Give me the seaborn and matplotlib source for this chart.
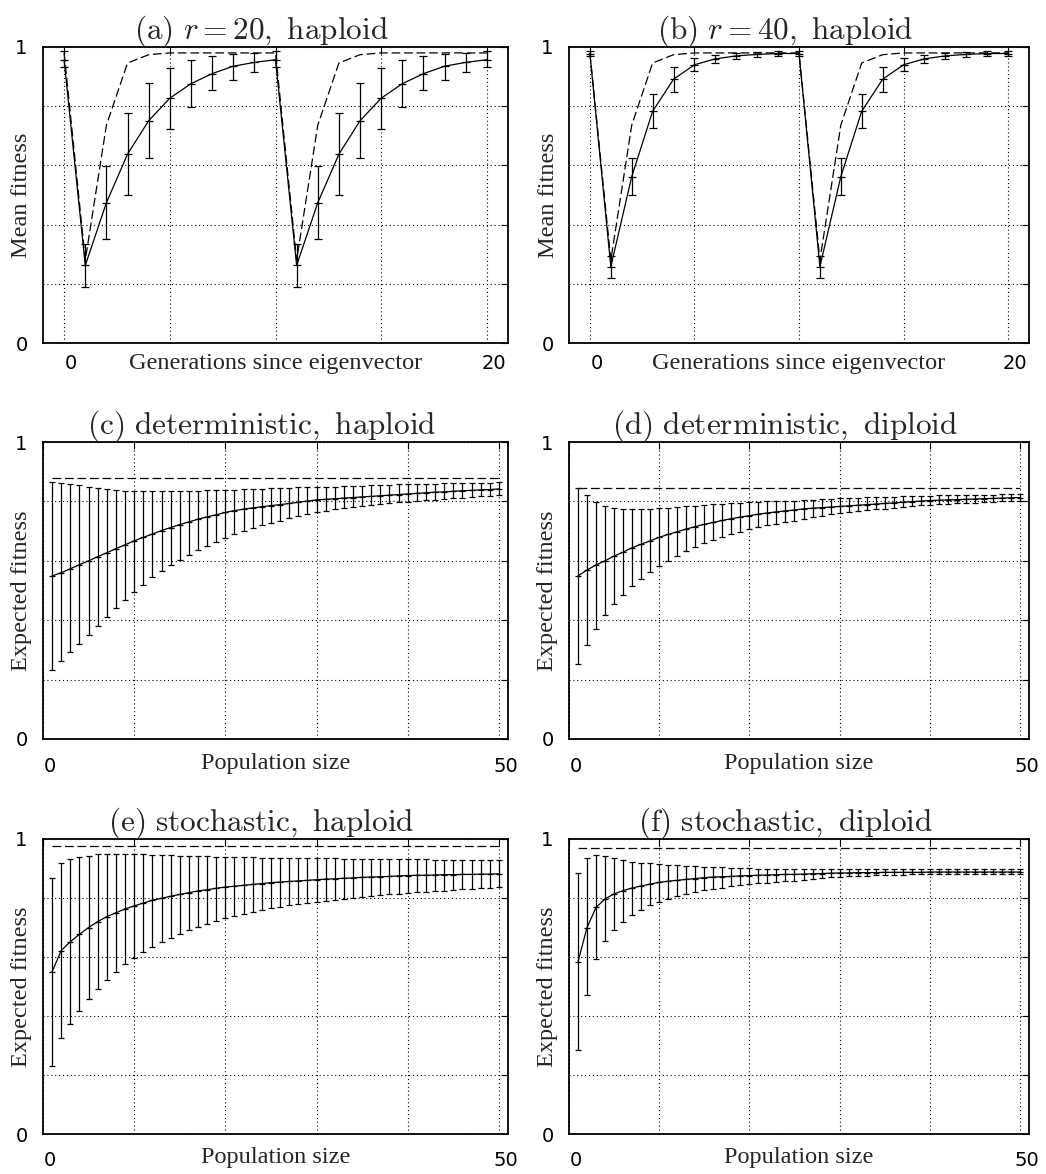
import numpy as np
import pandas as pd
import matplotlib
matplotlib.use("Agg")
import matplotlib.pyplot as plt
import matplotlib.transforms as mtransforms
import seaborn as sns

# ---------------- data ----------------
generations = list(range(21))
pop_size = list(range(1, 51))

a_mean = [0.955, 0.262, 0.474, 0.638, 0.751, 0.827, 0.876, 0.910, 0.935, 0.948, 0.957,
          0.262, 0.474, 0.638, 0.751, 0.827, 0.876, 0.910, 0.935, 0.948, 0.957]
a_lo = [0.933, 0.189, 0.351, 0.500, 0.624, 0.724, 0.798, 0.854, 0.890, 0.916, 0.933,
        0.189, 0.351, 0.500, 0.624, 0.724, 0.798, 0.854, 0.890, 0.916, 0.933]
a_hi = [0.986, 0.335, 0.599, 0.778, 0.880, 0.930, 0.955, 0.970, 0.978, 0.980, 0.986,
        0.335, 0.599, 0.778, 0.880, 0.930, 0.955, 0.970, 0.978, 0.980, 0.986]
a_det = [0.980, 0.280, 0.736, 0.946, 0.974, 0.980, 0.980, 0.980, 0.980, 0.980, 0.980,
         0.280, 0.736, 0.946, 0.974, 0.980, 0.980, 0.980, 0.980, 0.980, 0.980]

b_mean = [0.978, 0.258, 0.562, 0.783, 0.891, 0.940, 0.960, 0.970, 0.975, 0.978, 0.978,
          0.258, 0.562, 0.783, 0.891, 0.940, 0.960, 0.970, 0.975, 0.978, 0.978]
b_lo = [0.968, 0.219, 0.500, 0.725, 0.848, 0.918, 0.946, 0.959, 0.967, 0.971, 0.968,
        0.219, 0.500, 0.725, 0.848, 0.918, 0.946, 0.959, 0.967, 0.971, 0.968]
b_hi = [0.988, 0.294, 0.624, 0.840, 0.933, 0.963, 0.974, 0.981, 0.983, 0.985, 0.988,
        0.294, 0.624, 0.840, 0.933, 0.963, 0.974, 0.981, 0.983, 0.985, 0.988]
b_det = [0.980, 0.280, 0.736, 0.946, 0.974, 0.980, 0.980, 0.980, 0.980, 0.980, 0.980,
         0.280, 0.736, 0.946, 0.974, 0.980, 0.980, 0.980, 0.980, 0.980, 0.980]

c_mean = [0.549, 0.560, 0.573, 0.587, 0.600, 0.614, 0.627, 0.641, 0.654, 0.667,
          0.679, 0.690, 0.702, 0.712, 0.722, 0.731, 0.740, 0.748, 0.755, 0.763,
          0.769, 0.774, 0.778, 0.782, 0.786, 0.789, 0.793, 0.797, 0.801, 0.805,
          0.807, 0.809, 0.811, 0.813, 0.815, 0.817, 0.819, 0.821, 0.823, 0.825,
          0.827, 0.829, 0.831, 0.832, 0.834, 0.836, 0.837, 0.839, 0.840, 0.842]
c_lo = [0.233, 0.264, 0.292, 0.320, 0.351, 0.382, 0.412, 0.440, 0.468, 0.494,
        0.520, 0.544, 0.565, 0.585, 0.604, 0.620, 0.636, 0.650, 0.664, 0.676,
        0.689, 0.700, 0.709, 0.719, 0.727, 0.735, 0.743, 0.751, 0.758, 0.765,
        0.769, 0.773, 0.777, 0.781, 0.785, 0.788, 0.791, 0.794, 0.797, 0.799,
        0.802, 0.804, 0.806, 0.808, 0.811, 0.813, 0.815, 0.817, 0.819, 0.821]
c_hi = [0.866, 0.861, 0.857, 0.854, 0.850, 0.846, 0.842, 0.838, 0.836, 0.835,
        0.835, 0.835, 0.835, 0.835, 0.835, 0.836, 0.836, 0.837, 0.838, 0.839,
        0.840, 0.841, 0.842, 0.843, 0.844, 0.845, 0.846, 0.847, 0.847, 0.848,
        0.849, 0.850, 0.851, 0.852, 0.853, 0.854, 0.855, 0.856, 0.857, 0.858,
        0.859, 0.859, 0.860, 0.861, 0.861, 0.862, 0.862, 0.863, 0.863, 0.864]
c_det = 0.880

d_mean = [0.549, 0.569, 0.586, 0.600, 0.616, 0.629, 0.644, 0.656, 0.667, 0.679,
          0.689, 0.698, 0.707, 0.715, 0.723, 0.729, 0.736, 0.742, 0.747, 0.752,
          0.757, 0.761, 0.765, 0.768, 0.771, 0.775, 0.777, 0.779, 0.781, 0.783,
          0.785, 0.787, 0.789, 0.791, 0.793, 0.795, 0.797, 0.799, 0.801, 0.803,
          0.804, 0.805, 0.806, 0.807, 0.808, 0.809, 0.810, 0.811, 0.812, 0.813]
d_lo = [0.253, 0.316, 0.372, 0.417, 0.454, 0.486, 0.515, 0.538, 0.561, 0.581,
        0.599, 0.616, 0.632, 0.645, 0.659, 0.670, 0.680, 0.690, 0.698, 0.706,
        0.713, 0.719, 0.725, 0.730, 0.735, 0.741, 0.746, 0.751, 0.756, 0.761,
        0.764, 0.767, 0.770, 0.773, 0.776, 0.779, 0.782, 0.784, 0.787, 0.789,
        0.791, 0.792, 0.794, 0.795, 0.796, 0.797, 0.798, 0.800, 0.801, 0.802]
d_hi = [0.846, 0.823, 0.799, 0.786, 0.779, 0.775, 0.773, 0.773, 0.774, 0.777,
        0.779, 0.781, 0.783, 0.786, 0.788, 0.790, 0.792, 0.793, 0.795, 0.797,
        0.799, 0.800, 0.801, 0.802, 0.803, 0.805, 0.806, 0.808, 0.809, 0.811,
        0.812, 0.813, 0.814, 0.815, 0.816, 0.816, 0.817, 0.818, 0.818, 0.819,
        0.820, 0.820, 0.821, 0.822, 0.822, 0.823, 0.823, 0.824, 0.824, 0.825]
d_det = 0.845

e_mean = [0.550, 0.622, 0.652, 0.677, 0.700, 0.720, 0.737, 0.750, 0.763, 0.773,
          0.783, 0.792, 0.799, 0.806, 0.812, 0.818, 0.824, 0.828, 0.833, 0.837,
          0.840, 0.843, 0.846, 0.849, 0.852, 0.854, 0.856, 0.858, 0.860, 0.862,
          0.864, 0.865, 0.867, 0.868, 0.870, 0.871, 0.872, 0.873, 0.875, 0.876,
          0.877, 0.877, 0.878, 0.879, 0.879, 0.880, 0.880, 0.881, 0.881, 0.882]
e_lo = [0.232, 0.324, 0.374, 0.417, 0.457, 0.493, 0.523, 0.550, 0.575, 0.598,
        0.617, 0.635, 0.650, 0.664, 0.678, 0.691, 0.702, 0.712, 0.722, 0.731,
        0.738, 0.745, 0.752, 0.759, 0.765, 0.770, 0.775, 0.779, 0.784, 0.788,
        0.791, 0.794, 0.797, 0.800, 0.803, 0.806, 0.809, 0.812, 0.814, 0.817,
        0.819, 0.821, 0.823, 0.825, 0.827, 0.829, 0.831, 0.833, 0.835, 0.836]
e_hi = [0.869, 0.917, 0.931, 0.940, 0.944, 0.948, 0.949, 0.950, 0.950, 0.949,
        0.948, 0.947, 0.946, 0.945, 0.944, 0.943, 0.942, 0.941, 0.940, 0.939,
        0.939, 0.938, 0.938, 0.937, 0.937, 0.936, 0.936, 0.935, 0.935, 0.935,
        0.934, 0.934, 0.933, 0.933, 0.933, 0.932, 0.932, 0.932, 0.931, 0.931,
        0.931, 0.931, 0.930, 0.930, 0.930, 0.930, 0.930, 0.930, 0.930, 0.930]
e_det = 0.977

f_mean = [0.584, 0.700, 0.768, 0.797, 0.814, 0.825, 0.834, 0.841, 0.847, 0.853,
          0.857, 0.860, 0.863, 0.866, 0.869, 0.871, 0.872, 0.873, 0.875, 0.876,
          0.877, 0.878, 0.879, 0.880, 0.880, 0.881, 0.882, 0.883, 0.884, 0.885,
          0.885, 0.886, 0.886, 0.886, 0.887, 0.887, 0.887, 0.887, 0.887, 0.888,
          0.888, 0.888, 0.888, 0.888, 0.888, 0.888, 0.888, 0.888, 0.888, 0.888]
f_lo = [0.285, 0.471, 0.593, 0.654, 0.692, 0.720, 0.742, 0.759, 0.775, 0.787,
        0.797, 0.806, 0.814, 0.820, 0.827, 0.831, 0.835, 0.840, 0.843, 0.847,
        0.850, 0.852, 0.854, 0.856, 0.858, 0.862, 0.865, 0.867, 0.870, 0.872,
        0.874, 0.875, 0.876, 0.877, 0.878, 0.878, 0.879, 0.880, 0.880, 0.881,
        0.881, 0.881, 0.881, 0.882, 0.882, 0.882, 0.882, 0.882, 0.882, 0.882]
f_hi = [0.884, 0.934, 0.946, 0.942, 0.934, 0.929, 0.923, 0.920, 0.917, 0.915,
        0.913, 0.911, 0.909, 0.908, 0.906, 0.905, 0.904, 0.903, 0.902, 0.901,
        0.900, 0.900, 0.900, 0.900, 0.900, 0.900, 0.900, 0.900, 0.900, 0.900,
        0.900, 0.900, 0.900, 0.900, 0.900, 0.900, 0.900, 0.900, 0.900, 0.899,
        0.899, 0.899, 0.899, 0.899, 0.899, 0.899, 0.899, 0.899, 0.899, 0.899]
f_det = 0.968

titles = [r'$\mathrm{(a)}\ r = 20,\ \mathrm{haploid}$',
          r'$\mathrm{(b)}\ r = 40,\ \mathrm{haploid}$',
          r'$\mathrm{(c)\ deterministic,\ haploid}$',
          r'$\mathrm{(d)\ deterministic,\ diploid}$',
          r'$\mathrm{(e)\ stochastic,\ haploid}$',
          r'$\mathrm{(f)\ stochastic,\ diploid}$']

# ---------------- style ----------------
sns.set_style("white")
plt.rcParams['font.family'] = ['DejaVu Sans']
plt.rcParams['mathtext.fontset'] = 'cm'

W, H = 1046, 1174
fig = plt.figure(figsize=(W / 100, H / 100), dpi=100)
fig.patch.set_facecolor('white')


def add_axes_px(l, t, r, b):
    return fig.add_axes([l / W, 1 - b / H, (r - l) / W, (b - t) / H])


def draw_panel(ax, x, mean, lo, hi, det, title, xlabel, ylabel, xlim, xticks,
               cap_px, xlab_px):
    df = pd.DataFrame({'x': x, 'mean': mean, 'lo': lo, 'hi': hi, 'det': det})
    ax.set_facecolor('white')
    # dashed deterministic line
    sns.lineplot(data=df, x='x', y='det', ax=ax, color='black', lw=0.9,
                 linestyle=(0, (7, 3)), zorder=3)
    # error bars
    yerr = np.vstack([df['mean'] - df['lo'], df['hi'] - df['mean']])
    ax.errorbar(df['x'], df['mean'], yerr=yerr, fmt='none', ecolor='black',
                elinewidth=0.9, capsize=cap_px * 0.72, capthick=0.9, zorder=4)
    # mean line with point marks
    sns.lineplot(data=df, x='x', y='mean', ax=ax, color='black', lw=0.9,
                 marker='_', markersize=cap_px * 1.44, markeredgewidth=0.9,
                 markeredgecolor='black', zorder=5)

    ax.set_xlim(*xlim)
    ax.set_ylim(0, 1)
    ax.set_xticks(xticks)
    ax.set_xticklabels([str(xticks[0])] + [''] * (len(xticks) - 2) + [str(xticks[-1])])
    yt = [0, 0.2, 0.4, 0.6, 0.8, 1.0]
    ax.set_yticks(yt)
    ax.set_yticklabels(['0', '', '', '', '', '1'])
    ax.grid(True, color='black', linestyle=(0, (1, 2.5)), linewidth=0.8)
    ax.tick_params(axis='both', direction='in', top=True, right=True,
                   length=5, width=0.8, labelsize=14, colors='black')
    ax.tick_params(axis='x', pad=xlab_px - 12)
    ax.tick_params(axis='y', pad=11)
    for s in ax.spines.values():
        s.set_visible(True)
        s.set_color('black')
        s.set_linewidth(1.3)
    offset = mtransforms.ScaledTranslation(7 / 100, 0, fig.dpi_scale_trans)
    for lab in ax.get_xticklabels():
        lab.set_transform(lab.get_transform() + offset)

    ax.set_title(title, fontsize=22.5, pad=6, x=0.47)
    ax.set_xlabel(xlabel, fontsize=17.5, fontfamily='Liberation Serif')
    ax.set_ylabel(ylabel, fontsize=17.5, fontfamily='Liberation Serif')
    bb = ax.get_position()
    hpx = bb.height * H
    wpx = bb.width * W
    ax.xaxis.set_label_coords(0.5, -xlab_px / hpx)
    ax.xaxis.label.set_va('center')
    ax.yaxis.set_label_coords(-21 / wpx, 0.5)
    ax.yaxis.label.set_va('center')


ax_a = add_axes_px(43, 47, 508, 343)
ax_b = add_axes_px(569, 47, 1029, 343)
ax_c = add_axes_px(43, 442, 508, 739)
ax_d = add_axes_px(569, 442, 1029, 739)
ax_e = add_axes_px(43, 839, 508, 1134)
ax_f = add_axes_px(569, 839, 1029, 1134)

gticks = [0, 5, 10, 15, 20]
pticks = [0, 10, 20, 30, 40, 50]

draw_panel(ax_a, generations, a_mean, a_lo, a_hi, a_det, titles[0],
           'Generations since eigenvector', 'Mean fitness', (-1, 21), gticks, 4, 20)
draw_panel(ax_b, generations, b_mean, b_lo, b_hi, b_det, titles[1],
           'Generations since eigenvector', 'Mean fitness', (-1, 21), gticks, 4, 20)
draw_panel(ax_c, pop_size, c_mean, c_lo, c_hi, [c_det] * len(pop_size), titles[2],
           'Population size', 'Expected fitness', (0, 51), pticks, 3, 25)
draw_panel(ax_d, pop_size, d_mean, d_lo, d_hi, [d_det] * len(pop_size), titles[3],
           'Population size', 'Expected fitness', (0, 51), pticks, 3, 25)
draw_panel(ax_e, pop_size, e_mean, e_lo, e_hi, [e_det] * len(pop_size), titles[4],
           'Population size', 'Expected fitness', (0, 51), pticks, 3, 24)
draw_panel(ax_f, pop_size, f_mean, f_lo, f_hi, [f_det] * len(pop_size), titles[5],
           'Population size', 'Expected fitness', (0, 51), pticks, 3, 24)

fig.savefig('out.png', dpi=100, facecolor='white')
